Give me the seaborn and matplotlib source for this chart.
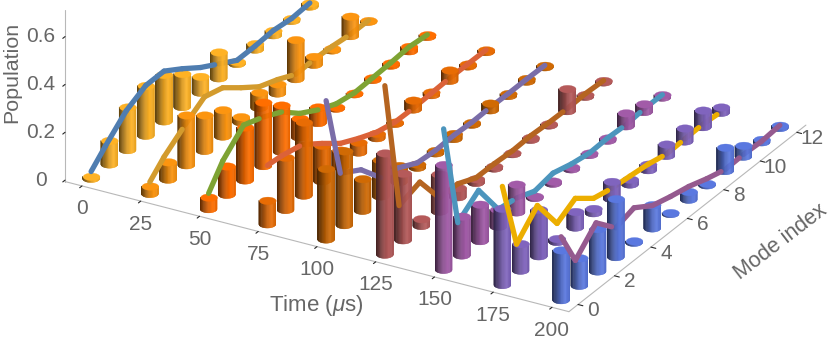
import numpy as np
import matplotlib
matplotlib.use("Agg")
import matplotlib.pyplot as plt
import seaborn as sns
from mpl_toolkits.mplot3d import proj3d
from mpl_toolkits.mplot3d.art3d import Poly3DCollection

times = [0, 25, 50, 75, 100, 125, 150, 175, 200]
modes = list(range(13))
line_modes = [0, 0.78, 1.92, 3, 4, 5, 6, 7, 8, 9, 10, 11, 12]
mode_ticks = [0, 2, 4, 6, 8, 10, 12]
pop_ticks = [0, 0.2, 0.4, 0.6]

bars_t000 = [.010, .100, .180, .210, .196, .140, .068, .110, .010, .025, .020, .010, .015]
bars_t025 = [.033, .074, .210, .150, .112, .023, .065, .040, .165, .035, .008, .083, .005]
bars_t050 = [.050, .120, .223, .267, .195, .080, .067, .007, .005, .009, .011, .020, .009]
bars_t075 = [.100, .220, .307, .150, .070, .043, .020, .007, .039, .013, .045, .010, .009]
bars_t100 = [.296, .310, .134, .153, .069, .015, .012, .023, .009, .030, .010, .013, .008]
bars_t125 = [.425, .280, .030, .157, .040, .017, .010, .006, .010, .007, .094, .009, .008]
bars_t150 = [.440, .164, .154, .073, .118, .008, .011, .010, .008, .011, .056, .034, .012]
bars_t175 = [.320, .113, .196, .014, .067, .020, .073, .022, .025, .049, .056, .071, .024]
bars_t200 = [.210, .117, .179, .244, .008, .099, .006, .034, .008, .099, .047, .012, .011]

line_t000 = [.030, .089, .168, .210, .210, .160, .105, .060, .015, .015, .020, .010, .015]
line_t025 = [.050, .108, .172, .226, .204, .144, .088, .058, .020, .022, .017, .007, .006]
line_t050 = [.066, .155, .236, .205, .166, .100, .055, .020, .006, .009, .012, .018, .009]
line_t075 = [.246, .239, .218, .158, .098, .059, .025, .007, .005, .008, .011, .010, .009]
line_t100 = [.580, .230, .176, .078, .060, .020, .012, .015, .010, .012, .010, .010, .008]
line_t125 = [.706, .158, .188, .057, .056, .021, .020, .014, .017, .012, .010, .013, .008]
line_t150 = [.589, .150, .217, .073, .060, .029, .044, .022, .008, .011, .006, .013, .012]
line_t175 = [.412, .124, .217, .077, .122, .062, .044, .035, .025, .007, .010, .012, .004]
line_t200 = [.265, .119, .208, .122, .146, .095, .073, .055, .028, .006, .009, .004, .011]

all_bars = [bars_t000, bars_t025, bars_t050, bars_t075, bars_t100, bars_t125, bars_t150, bars_t175, bars_t200]
all_lines = [line_t000, line_t025, line_t050, line_t075, line_t100, line_t125, line_t150, line_t175, line_t200]

bar_hex = ["#FFB224", "#FC9510", "#FF6E00", "#E86C04", "#D06A04", "#B55A5A", "#A25BA8", "#8064BE", "#5A78E0"]
line_hex = ["#4F7DB0", "#D39B2D", "#7EA333", "#DB6238", "#7A6DA8", "#B56420", "#4C95BD", "#ECAE00", "#955A8F"]

AXIS_GRAY = "#B8B8B8"
TEXT_GRAY = "#666666"
ELEV, AZIM = 26.8, -60.2
XLIM, YLIM, ZLIM = (-7.2, 207.2), (-0.5, 12.5), (-0.006, 0.713)
R_T, R_M = 3.1, 0.228
LW = 3.8

sns.set_theme(style="white", rc={"figure.dpi": 100, "savefig.dpi": 100})
plt.rcParams["font.family"] = ["Liberation Sans", "DejaVu Sans"]
plt.rcParams["mathtext.fontset"] = "custom"
plt.rcParams["mathtext.it"] = "Liberation Sans:italic"
plt.rcParams["mathtext.rm"] = "Liberation Sans"

bar_cols = sns.color_palette(bar_hex)
line_cols = sns.color_palette(line_hex)

FW, FH = 830, 339
fig = plt.figure(figsize=(FW / 100, FH / 100), dpi=100, facecolor="white")
W = 753
ax = fig.add_axes([48.8 / FW, -115 / FH, W / FW, W / FH], projection="3d",
                  proj_type="ortho", computed_zorder=False)
ax.view_init(elev=ELEV, azim=AZIM)
ax.set_box_aspect((580.6, 476.8, 192.7))


def depth(t, m):
    return 1000 + 14.9 * t / 25 - 14.3 * m


az = np.deg2rad(AZIM)
phis = np.linspace(az - np.pi / 2, az + np.pi / 2, 25)
cap_phis = np.linspace(0, 2 * np.pi, 41)[:-1]


def shade(col, s):
    s = float(np.interp(s, [-1, -0.6, 0, 0.45, 1], [0.36, 0.55, 0.86, 1.0, 0.9]))
    return tuple(np.clip(np.array(col) * s, 0, 1))


def cylinder(t, m, h, col):
    base = ZLIM[0]
    top = max(h - 0.006, base + 0.002)
    xs = t + R_T * np.cos(phis)
    ys = m + R_M * np.sin(phis)
    polys, cols = [], []
    for i in range(len(phis) - 1):
        polys.append([(xs[i], ys[i], base), (xs[i + 1], ys[i + 1], base),
                      (xs[i + 1], ys[i + 1], top), (xs[i], ys[i], top)])
        cols.append(shade(col, np.sin(0.5 * (phis[i] + phis[i + 1]) - az)))
    side = Poly3DCollection(polys, facecolors=cols, edgecolors=cols, linewidths=0.3)
    side.set_zorder(depth(t, m))
    ax.add_collection3d(side, autolim=False)
    cap = Poly3DCollection([list(zip(t + R_T * np.cos(cap_phis), m + R_M * np.sin(cap_phis),
                                     np.full(cap_phis.shape, top)))],
                           facecolors=[col], edgecolors=[col], linewidths=0.2)
    cap.set_zorder(depth(t, m) + 0.02)
    ax.add_collection3d(cap, autolim=False)


for t, vals, col in zip(times, all_bars, bar_cols):
    for m, h in zip(modes, vals):
        cylinder(t, m, h, col)

TOL = 0.012
for t, bars, vals, col in zip(times, all_bars, all_lines, line_cols):
    for i in modes[:-1]:
        a, b = vals[i], vals[i + 1]
        m0, m1 = line_modes[i], line_modes[i + 1]
        s1 = 1.0
        # a line climbing toward a taller bar disappears at the cylinder wall
        if b < bars[i + 1] - TOL and a <= bars[i + 1]:
            s1 = min(1.0, (i + 1 - R_M - m0) / (m1 - m0))
        over = a >= bars[i] - TOL
        zo = depth(t, i) + (0.1 if over else -0.1)
        ax.plot([t, t], [m0, m0 + s1 * (m1 - m0)], [a - 0.006, a - 0.006 + s1 * (b - a)], color=col, lw=LW,
                solid_capstyle="round", zorder=zo)

ax.set_xlim(*XLIM, view_margin=0)
ax.set_ylim(*YLIM, view_margin=0)
ax.set_zlim(*ZLIM, view_margin=0)
ax.set_xticks(times)
ax.set_yticks(mode_ticks)
ax.set_zticks(pop_ticks)
ax.set_xticklabels([])
ax.set_yticklabels([])
ax.set_zticklabels([])
ax.grid(False)
ax.zaxis.set_ticks_position("lower")
for axis in (ax.xaxis, ax.yaxis, ax.zaxis):
    axis.set_pane_color((1, 1, 1, 0))
    axis.pane.set_edgecolor((1, 1, 1, 0))
    axis.line.set_color(AXIS_GRAY)
    axis.line.set_linewidth(0.8)
    axis._axinfo["tick"]["inward_factor"] = 0.12
    axis._axinfo["tick"]["outward_factor"] = 0.0
    axis._axinfo["tick"]["color"] = AXIS_GRAY
    axis._axinfo["tick"]["linewidth"] = {True: 0.8, False: 0.6}

FS = 15
z0 = ZLIM[0]
M = ax.get_proj()


def label3d(x, y, z, s):
    px, py, _ = proj3d.proj_transform(x, y, z, M)
    ax.text2D(px, py, s, transform=ax.transData, ha="center", va="center",
              fontsize=FS, color=TEXT_GRAY, clip_on=False)


for t in times:
    label3d(t, YLIM[0], z0 - 0.096, str(t))
for m in mode_ticks:
    label3d(XLIM[1] + 6.4, m, z0 - 0.009, str(m))
for p in pop_ticks:
    label3d(XLIM[0] - 10.2, YLIM[0], p - 0.0255, f"{p:g}")

fig.text(316 / FW, 1 - 306 / FH, r"Time ($\mu$s)", ha="center", va="center", fontsize=16, color=TEXT_GRAY)
fig.text(12 / FW, 1 - 72 / FH, "Population", ha="center", va="center", rotation=90, fontsize=15.4, color=TEXT_GRAY)
fig.text(781 / FW, 1 - 242 / FH, "Mode index", ha="center", va="center", rotation=37.5, fontsize=15.5, color=TEXT_GRAY)

fig.savefig("out.png", dpi=100, facecolor="white")
